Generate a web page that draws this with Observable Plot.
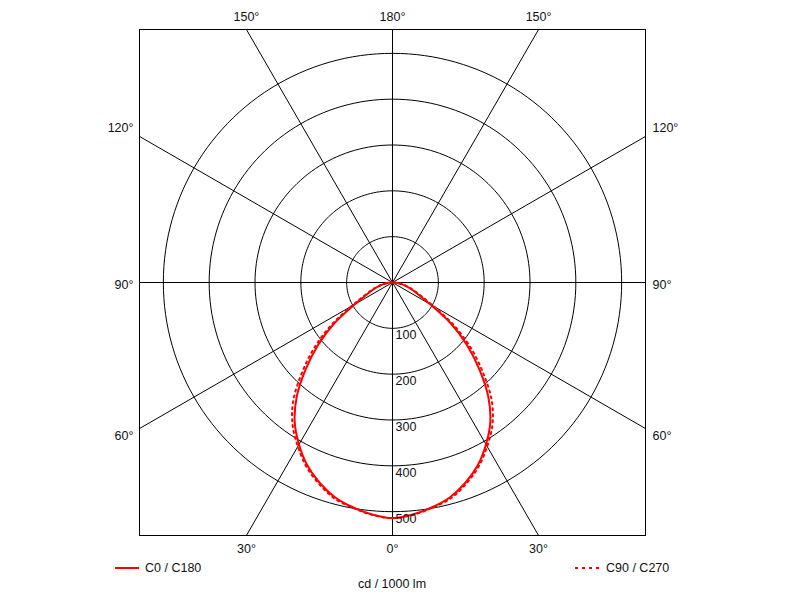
<!DOCTYPE html>
<html>
<head>
<meta charset="utf-8">
<script src="https://cdn.jsdelivr.net/npm/d3@7"></script>
<script src="https://cdn.jsdelivr.net/npm/@observablehq/plot@0.6"></script>
<style>
  body { margin: 0; background: #fff; font-family: "Liberation Sans", Arial, sans-serif; }
  #wrap { position: relative; width: 800px; height: 600px; }
  #chart svg { display: block; }
  .lg { position: absolute; font-size: 12.5px; color: #111; line-height: 16px; white-space: nowrap; }
  .sw { position: absolute; }
</style>
</head>
<body>
<div id="wrap">
  <div id="chart"></div>
  <svg class="sw" style="left:115px; top:564px;" width="25" height="8"><line x1="0" y1="4" x2="24" y2="4" stroke="#ff0000" stroke-width="2"/></svg>
  <div class="lg" id="lgA" style="left:145px; top:560px;"></div>
  <svg class="sw" style="left:575px; top:564px;" width="25" height="8"><line x1="0" y1="4" x2="24" y2="4" stroke="#ff0000" stroke-width="2" stroke-dasharray="3,4"/></svg>
  <div class="lg" id="lgB" style="left:606px; top:560px;"></div>
  <div class="lg" id="unit" style="left:0; width:784px; text-align:center; top:576px;"></div>
</div>
<script>
// ---- data ----
const gammaAngles = [0, 5, 10, 15, 20, 25, 30, 35, 40, 45, 50, 55, 60, 65, 70, 75, 80, 85, 90];
const c0c180 =      [514, 508, 498, 485, 465, 440, 408, 372, 325, 268, 212, 155, 95, 62, 45, 32, 20, 9, 0];
const c90c270 =     [514, 509, 499, 488, 468, 444, 413, 380, 337, 280, 224, 165, 103, 68, 48, 33, 20, 9, 0];
const seriesNames = ["C0 / C180", "C90 / C270"];
const ringValues = [100, 200, 300, 400, 500];
const spokeAngles = [0, 30, 60, 90, 120, 150, 180, 210, 240, 270, 300, 330];
const topTicks = [{label: "150°", side: -1, angle: 150}, {label: "180°", side: 0, angle: 180}, {label: "150°", side: 1, angle: 150}];
const sideTicks = [{label: "120°", angle: 120}, {label: "90°", angle: 90}, {label: "60°", angle: 60}];
const bottomTicks = [{label: "30°", side: -1, angle: 30}, {label: "0°", side: 0, angle: 0}, {label: "30°", side: 1, angle: 30}];
const unitLabel = "cd / 1000 lm";

// ---- geometry helpers ----
const D = 552; // half extent of the square frame (cd/klm)
const rad = a => a * Math.PI / 180;

function curvePoints(values) {
  const pts = [];
  for (let i = gammaAngles.length - 1; i >= 0; i--) {
    const g = rad(gammaAngles[i]), r = values[i];
    pts.push({x: -r * Math.sin(g), y: -r * Math.cos(g)});
  }
  for (let i = 1; i < gammaAngles.length; i++) {
    const g = rad(gammaAngles[i]), r = values[i];
    pts.push({x: r * Math.sin(g), y: -r * Math.cos(g)});
  }
  return pts;
}

const ringPts = [];
for (const v of ringValues) {
  for (let a = 0; a <= 360; a += 2) ringPts.push({ring: v, x: v * Math.sin(rad(a)), y: v * Math.cos(rad(a))});
}
const spokes = spokeAngles.map(a => ({x2: 2000 * Math.sin(rad(a)), y2: -2000 * Math.cos(rad(a))}));

const textStyle = {fontSize: 12.5, fill: "#111", fontFamily: "Liberation Sans, Arial, sans-serif"};

const marks = [
  Plot.line(ringPts, {x: "x", y: "y", z: "ring", stroke: "#000", strokeWidth: 1}),
  Plot.link(spokes, {x1: () => 0, y1: () => 0, x2: "x2", y2: "y2", stroke: "#000", strokeWidth: 1, clip: "frame"}),
  Plot.frame({stroke: "#000", strokeWidth: 1}),
  Plot.line(curvePoints(c90c270), {x: "x", y: "y", stroke: "#ff0000", strokeWidth: 2, strokeDasharray: "2,4", curve: "catmull-rom"}),
  Plot.line(curvePoints(c0c180), {x: "x", y: "y", stroke: "#ff0000", strokeWidth: 2, curve: "catmull-rom"}),
  Plot.text(ringValues, {x: () => 0, y: d => -d, text: d => String(d), textAnchor: "start", dx: 3, dy: 7, ...textStyle}),
  Plot.text(topTicks, {x: d => d.side * D * Math.tan(rad(180 - d.angle)), text: "label", frameAnchor: "top", dy: -17, ...textStyle}),
  Plot.text(bottomTicks, {x: d => d.side * D * Math.tan(rad(d.angle)), text: "label", frameAnchor: "bottom", dy: 17, ...textStyle})
];
const sideDy = [-8, 2, 7];
sideTicks.forEach((t, i) => {
  marks.push(Plot.text([t], {y: d => D * Math.tan(rad(d.angle - 90)), text: "label", frameAnchor: "left", textAnchor: "end", dx: -6, dy: sideDy[i], ...textStyle}));
  marks.push(Plot.text([t], {y: d => D * Math.tan(rad(d.angle - 90)), text: "label", frameAnchor: "right", textAnchor: "start", dx: 7, dy: sideDy[i], ...textStyle}));
});

const chart = Plot.plot({
  width: 800,
  height: 560,
  marginLeft: 139,
  marginRight: 155,
  marginTop: 29,
  marginBottom: 25,
  x: {domain: [-D, D], axis: null},
  y: {domain: [-D, D], axis: null},
  style: {background: "#fff", overflow: "visible"},
  marks
});
document.getElementById("chart").appendChild(chart);
document.getElementById("lgA").textContent = seriesNames[0];
document.getElementById("lgB").textContent = seriesNames[1];
document.getElementById("unit").textContent = unitLabel;
</script>
</body>
</html>
